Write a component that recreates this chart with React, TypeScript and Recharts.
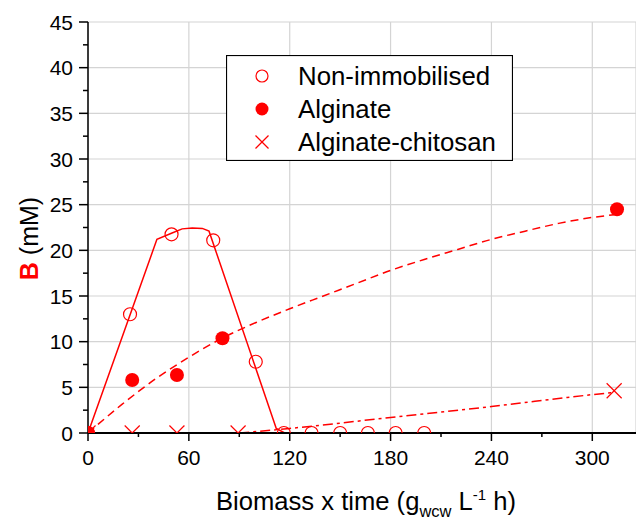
import React from "react";
import {
  ComposedChart,
  Line,
  Scatter,
  XAxis,
  YAxis,
  CartesianGrid,
  Legend,
} from "recharts";

// ---------- data ----------
const nonImmobX = [0, 25, 49.7, 74.5, 99.8, 116.5, 133, 150, 166.5, 183, 200];
const nonImmobY = [0, 13.0, 21.75, 21.1, 7.8, 0, 0, 0, 0, 0, 0];

const alginateX = [0, 26.3, 52.9, 80, 314.7];
const alginateY = [0, 5.8, 6.35, 10.37, 24.5];

const chitosanX = [0, 26.3, 52.9, 89.3, 313];
const chitosanY = [0, 0, 0, 0, 4.63];

const fitNonImmobX = [0, 41, 50, 56, 62, 68, 72, 112, 117];
const fitNonImmobY = [0, 21.2, 21.9, 22.35, 22.45, 22.4, 22.1, 0.5, 0];

const fitAlginateX = [0, 20, 40, 60, 80, 100, 120, 140, 160, 180, 200, 220, 240, 260, 280, 300, 313];
const fitAlginateY = [0, 3.1, 5.9, 8.3, 10.4, 12.1, 13.6, 15.0, 16.4, 17.8, 19.0, 20.1, 21.2, 22.1, 22.95, 23.6, 23.9];

const fitChitosanX = [90, 120, 180, 240, 300, 313];
const fitChitosanY = [0, 0.5, 1.7, 2.9, 4.2, 4.45];

const legendLabels = ["Non-immobilised", "Alginate", "Alginate-chitosan"];

const xTicksAll = [0, 30, 60, 90, 120, 150, 180, 210, 240, 270, 300];
const xTicksMajor = [0, 60, 120, 180, 240, 300];
const yTicksAll = [0, 2.5, 5, 7.5, 10, 12.5, 15, 17.5, 20, 22.5, 25, 27.5, 30, 32.5, 35, 37.5, 40, 42.5, 45];
const yTicksMajor = [0, 5, 10, 15, 20, 25, 30, 35, 40, 45];

const X_DOMAIN: [number, number] = [0, 326];
const Y_DOMAIN: [number, number] = [0, 45];

const zip = (xs: number[], ys: number[]) => xs.map((x, i) => ({ x, y: ys[i] }));

const nonImmobData = zip(nonImmobX, nonImmobY);
const alginateData = zip(alginateX, alginateY);
const chitosanData = zip(chitosanX, chitosanY);
const fitNonImmobData = zip(fitNonImmobX, fitNonImmobY);
const fitAlginateData = zip(fitAlginateX, fitAlginateY);
const fitChitosanData = zip(fitChitosanX, fitChitosanY);

// ---------- layout ----------
const W = 636;
const H = 519;
const M_TOP = 22;
const Y_AXIS_W = 88;
const X_AXIS_H = 86;
const PLOT = { x: Y_AXIS_W, y: M_TOP, w: W - Y_AXIS_W, h: H - M_TOP - X_AXIS_H };

// ---------- styles ----------
const RED = "#ff0000";
const FONT = "'Liberation Sans', Arial, Helvetica, sans-serif";
const CLIP = "url(#plot-area-clip)";

const XTick = (props: any) => {
  const { x, y, payload } = props;
  const v = payload.value;
  const major = xTicksMajor.includes(v);
  return (
    <g>
      <line x1={x} x2={x} y1={y} y2={y + (major ? 8 : 4)} stroke="#000" strokeWidth={1.5} />
      {major && (
        <text x={x} y={y + 32} textAnchor="middle" fontSize={21} fill="#000" fontFamily={FONT}>
          {v}
        </text>
      )}
    </g>
  );
};

const YTick = (props: any) => {
  const { x, y, payload } = props;
  const v = payload.value;
  const major = yTicksMajor.includes(v);
  return (
    <g>
      <line x1={x - (major ? 9 : 5)} x2={x} y1={y} y2={y} stroke="#000" strokeWidth={1.5} />
      {major && (
        <text x={x - 15} y={y + 7.5} textAnchor="end" fontSize={21} fill="#000" fontFamily={FONT}>
          {v}
        </text>
      )}
    </g>
  );
};

const OpenCircle = (props: any) => {
  const { cx, cy } = props;
  if (cx == null || cy == null) return null;
  return (
    <g clipPath={CLIP}>
      <circle cx={cx} cy={cy} r={6.5} fill="none" stroke={RED} strokeWidth={1.2} />
    </g>
  );
};

const FilledCircle = (props: any) => {
  const { cx, cy } = props;
  if (cx == null || cy == null) return null;
  return (
    <g clipPath={CLIP}>
      <circle cx={cx} cy={cy} r={7} fill={RED} stroke="none" />
    </g>
  );
};

const Cross = (props: any) => {
  const { cx, cy } = props;
  if (cx == null || cy == null) return null;
  const s = 7.5;
  return (
    <g stroke={RED} strokeWidth={1.2} clipPath={CLIP}>
      <line x1={cx - s} y1={cy - s} x2={cx + s} y2={cy + s} />
      <line x1={cx - s} y1={cy + s} x2={cx + s} y2={cy - s} />
    </g>
  );
};

const YLabel = (props: any) => {
  const vb = props.viewBox || { x: 0, y: PLOT.y, width: Y_AXIS_W, height: PLOT.h };
  const cx = 38;
  const cy = vb.y + vb.height / 2 + 11;
  return (
    <text
      x={cx}
      y={cy}
      textAnchor="middle"
      fontSize={25}
      fontFamily={FONT}
      fill="#000"
      transform={`rotate(-90, ${cx}, ${cy})`}
    >
      <tspan fill={RED} fontWeight="bold">B</tspan>
      <tspan> (mM)</tspan>
    </text>
  );
};

const XLabel = (props: any) => {
  const vb = props.viewBox || { x: PLOT.x, y: PLOT.y + PLOT.h, width: PLOT.w, height: X_AXIS_H };
  const y = vb.y + 77;
  return (
    <text x={216} y={y} fontSize={25.6} fontFamily={FONT} fill="#000">
      Biomass x time (g
      <tspan fontSize={16.5} dy={7}>wcw</tspan>
      <tspan dy={-7}> L</tspan>
      <tspan fontSize={15} dy={-10}>-1</tspan>
      <tspan dy={10}> h)</tspan>
    </text>
  );
};

const LegendBox = () => {
  const w = 287;
  const h = 106;
  const rows = [21, 54, 87];
  const sx = 36;
  return (
    <svg width={w} height={h} style={{ display: "block" }}>
      <rect x={0.5} y={0.5} width={w - 1} height={h - 1} fill="#fff" stroke="#000" strokeWidth={1.2} />
      <circle cx={sx} cy={rows[0]} r={6} fill="none" stroke={RED} strokeWidth={1.2} />
      <circle cx={sx} cy={rows[1]} r={6.5} fill={RED} />
      <g stroke={RED} strokeWidth={1.2}>
        <line x1={sx - 6.5} y1={rows[2] - 6.5} x2={sx + 6.5} y2={rows[2] + 6.5} />
        <line x1={sx - 6.5} y1={rows[2] + 6.5} x2={sx + 6.5} y2={rows[2] - 6.5} />
      </g>
      {legendLabels.map((t, i) => (
        <text key={t} x={72} y={rows[i] + 9} fontSize={25.8} fontFamily={FONT} fill="#000">
          {t}
        </text>
      ))}
    </svg>
  );
};

export default function App() {
  return (
    <div style={{ position: "absolute", left: 0, top: 0, background: "#fff" }}>
      <ComposedChart
        width={W}
        height={H}
        margin={{ top: M_TOP, right: 0, bottom: 0, left: 0 }}
      >
        <defs>
          <clipPath id="plot-area-clip">
            <rect x={PLOT.x} y={PLOT.y} width={PLOT.w} height={PLOT.h} />
          </clipPath>
        </defs>
        <XAxis xAxisId="grid" type="number" dataKey="x" domain={X_DOMAIN} ticks={xTicksMajor} hide allowDataOverflow />
        <YAxis yAxisId="grid" type="number" dataKey="y" domain={Y_DOMAIN} ticks={yTicksMajor} hide allowDataOverflow />
        <CartesianGrid xAxisId="grid" yAxisId="grid" stroke="#d4d4d4" strokeWidth={1.2} />
        <XAxis
          type="number"
          dataKey="x"
          domain={X_DOMAIN}
          ticks={xTicksAll}
          interval={0}
          allowDataOverflow
          height={X_AXIS_H}
          tickLine={false}
          tickSize={0}
          tickMargin={0}
          tick={<XTick />}
          axisLine={{ stroke: "#000", strokeWidth: 2 }}
          label={<XLabel />}
        />
        <YAxis
          type="number"
          dataKey="y"
          domain={Y_DOMAIN}
          ticks={yTicksAll}
          interval={0}
          allowDataOverflow
          width={Y_AXIS_W}
          tickLine={false}
          tickSize={0}
          tickMargin={0}
          tick={<YTick />}
          axisLine={{ stroke: "#000", strokeWidth: 1.5 }}
          label={<YLabel />}
        />
        <Line
          data={fitNonImmobData}
          dataKey="y"
          type="linear"
          stroke={RED}
          strokeWidth={1.5}
          dot={false}
          activeDot={false}
          legendType="none"
          isAnimationActive={false}
        />
        <Line
          data={fitAlginateData}
          dataKey="y"
          type="monotone"
          stroke={RED}
          strokeWidth={1.5}
          strokeDasharray="8 5"
          dot={false}
          activeDot={false}
          legendType="none"
          isAnimationActive={false}
        />
        <Line
          data={fitChitosanData}
          dataKey="y"
          type="monotone"
          stroke={RED}
          strokeWidth={1.5}
          strokeDasharray="10 4 3 4"
          dot={false}
          activeDot={false}
          legendType="none"
          isAnimationActive={false}
        />
        <Scatter name={legendLabels[0]} data={nonImmobData} dataKey="y" shape={<OpenCircle />} isAnimationActive={false} />
        <Scatter name={legendLabels[1]} data={alginateData} dataKey="y" shape={<FilledCircle />} isAnimationActive={false} />
        <Scatter name={legendLabels[2]} data={chitosanData} dataKey="y" shape={<Cross />} isAnimationActive={false} />
        <Legend
          layout="vertical"
          align="center"
          verticalAlign="middle"
          content={<LegendBox />}
          wrapperStyle={{ position: "absolute", left: 226, top: 55, width: 287, height: 106 }}
        />
      </ComposedChart>
    </div>
  );
}
